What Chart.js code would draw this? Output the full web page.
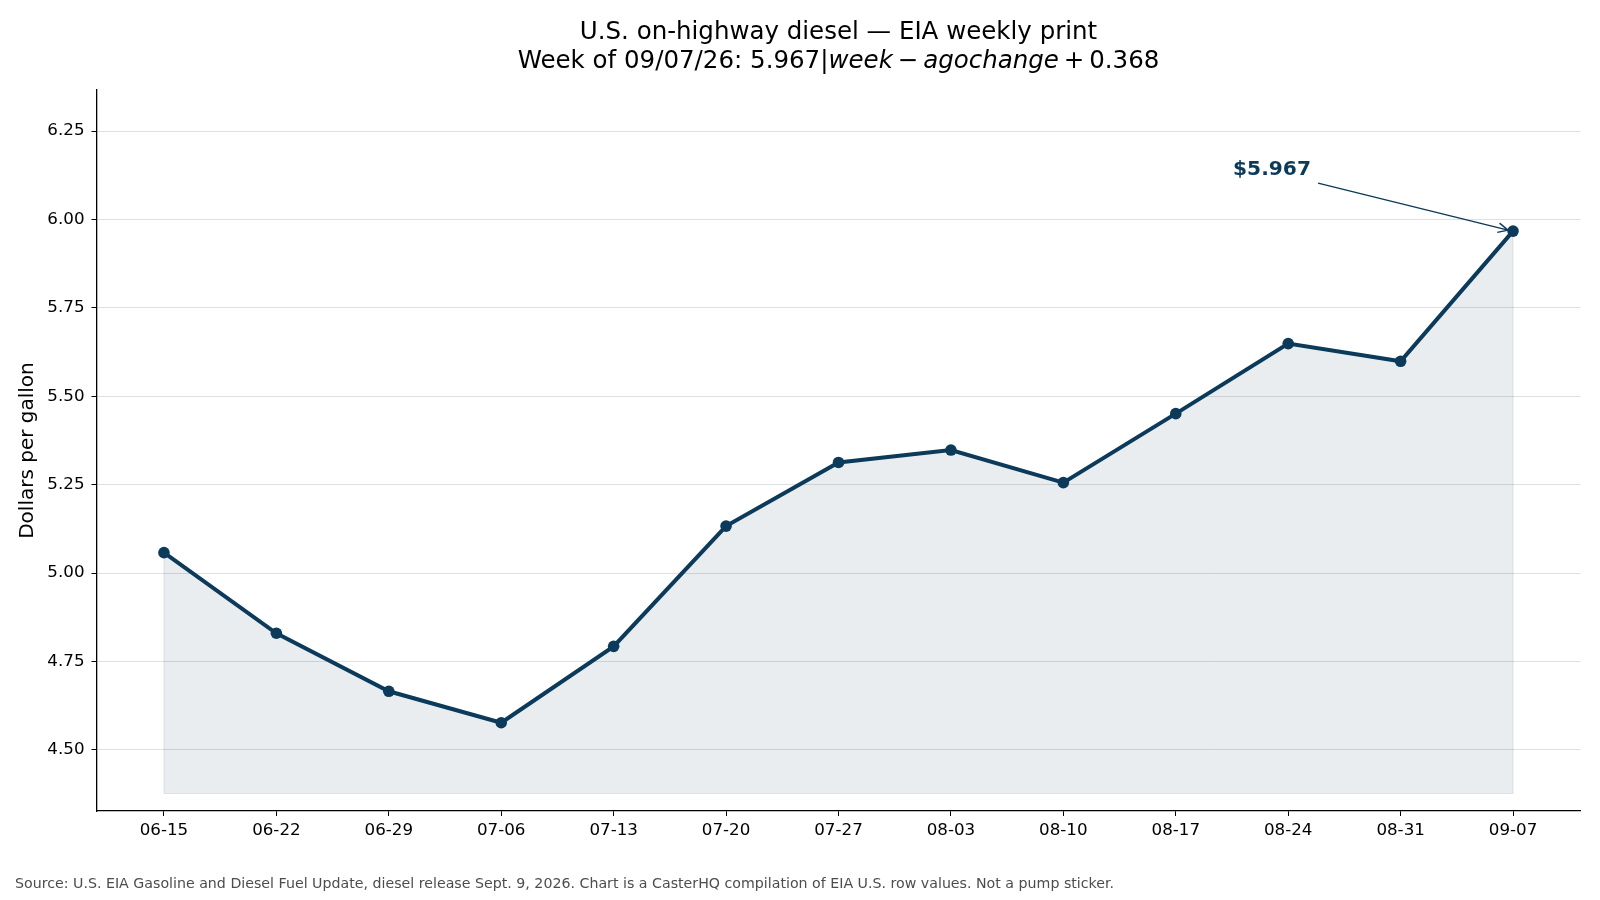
<!DOCTYPE html>
<html>
<head>
<meta charset="utf-8">
<title>U.S. on-highway diesel</title>
<script src="https://cdn.jsdelivr.net/npm/chart.js@4.4.1/dist/chart.umd.min.js"></script>
<style>
  html, body { margin: 0; padding: 0; background: #fff; }
  #wrap { width: 1600px; height: 900px; }
</style>
</head>
<body>
<div id="wrap"><canvas id="dieselChart" width="1600" height="900"></canvas></div>
<script>
// weekly EIA diesel prints ($/gal)
const weeks = ['06-15', '06-22', '06-29', '07-06', '07-13', '07-20', '07-27',
               '08-03', '08-10', '08-17', '08-24', '08-31', '09-07'];
const prices = [5.058, 4.830, 4.666, 4.577, 4.793, 5.133, 5.313,
                5.348, 5.256, 5.451, 5.649, 5.599, 5.967];
const yTicks = [4.50, 4.75, 5.00, 5.25, 5.50, 5.75, 6.00, 6.25];

const corLinha = '#0b3a5a';
const fonte = "'DejaVu Sans', sans-serif";
Chart.defaults.font.family = fonte;
Chart.defaults.color = '#000';

const minPreco = Math.min(...prices);
const baseArea = minPreco - 0.2;

// faint outline around the shaded area (like fill_between edges)
const contorno = {
  id: 'contorno',
  beforeDatasetsDraw(chart) {
    const pts = chart.getDatasetMeta(0).data;
    const yb = chart.scales.y.getPixelForValue(baseArea);
    const c = chart.ctx;
    c.save();
    c.strokeStyle = 'rgba(11, 58, 90, 0.10)';
    c.lineWidth = 1.2;
    c.beginPath();
    c.moveTo(pts[0].x, pts[0].y);
    pts.forEach(p => c.lineTo(p.x, p.y));
    c.lineTo(pts[pts.length - 1].x, yb);
    c.lineTo(pts[0].x, yb);
    c.closePath();
    c.stroke();
    c.restore();
  }
};

// title (with the mathtext-looking italic bits) + source + annotation
const extras = {
  id: 'extras',
  afterDraw(chart) {
    const c = chart.ctx;
    const area = chart.chartArea;
    const meio = (area.left + area.right) / 2;
    c.save();
    c.fillStyle = '#000';
    c.textBaseline = 'middle';
    c.textAlign = 'center';
    c.font = `24.5px ${fonte}`;
    c.fillText('U.S. on-highway diesel \u2014 EIA weekly print', meio, 33);

    // second line: text, style, extra gap after (math-style operator spacing)
    const tam2 = 24.5;
    const gap = tam2 * 0.2;
    const partes = [
      ['Week of 09/07/26: 5.967|', 'normal', 0],
      ['week', 'italic', gap],
      ['\u2212', 'normal', gap],
      ['agochange', 'italic', gap],
      ['+', 'normal', gap],
      ['0.368', 'normal', 0]
    ];
    let total = 0;
    partes.forEach(p => {
      c.font = `${p[1]} ${tam2}px ${fonte}`;
      total += c.measureText(p[0]).width + p[2];
    });
    let x = meio - total / 2;
    c.textAlign = 'left';
    partes.forEach(p => {
      c.font = `${p[1]} ${tam2}px ${fonte}`;
      c.fillText(p[0], x, 62);
      x += c.measureText(p[0]).width + p[2];
    });

    // source line
    c.font = `14.2px ${fonte}`;
    c.fillStyle = '#4d4d4d';
    c.fillText('Source: U.S. EIA Gasoline and Diesel Fuel Update, diesel release Sept. 9, 2026. Chart is a CasterHQ compilation of EIA U.S. row values. Not a pump sticker.', 15, 884);

    // annotation on the latest print
    const ult = prices.length - 1;
    const px = chart.scales.x.getPixelForValue(ult);
    const py = chart.scales.y.getPixelForValue(prices[ult]);
    c.fillStyle = corLinha;
    c.font = `bold 20.2px ${fonte}`;
    c.textAlign = 'left';
    c.fillText('$' + prices[ult].toFixed(3), px - 280, py - 61);

    const x0 = px - 195, y0 = py - 48;
    const x1 = px - 5, y1 = py - 1;
    c.strokeStyle = corLinha;
    c.lineWidth = 1.4;
    c.beginPath();
    c.moveTo(x0, y0);
    c.lineTo(x1, y1);
    const ang = Math.atan2(y1 - y0, x1 - x0);
    const ponta = 11;
    c.moveTo(x1 - ponta * Math.cos(ang - 0.45), y1 - ponta * Math.sin(ang - 0.45));
    c.lineTo(x1, y1);
    c.lineTo(x1 - ponta * Math.cos(ang + 0.45), y1 - ponta * Math.sin(ang + 0.45));
    c.stroke();
    c.restore();
  }
};

const grafico = new Chart(document.getElementById('dieselChart'), {
  type: 'line',
  data: {
    datasets: [{
      label: 'Diesel',
      data: weeks.map((w, i) => ({ x: i, y: prices[i] })),
      borderColor: corLinha,
      borderWidth: 4,
      pointRadius: 5.8,
      pointBackgroundColor: corLinha,
      pointBorderWidth: 0,
      tension: 0,
      fill: { value: baseArea },
      backgroundColor: 'rgba(11, 58, 90, 0.09)'
    }]
  },
  options: {
    responsive: false,
    animation: false,
    layout: { padding: { top: 90, right: 19.5, left: 0, bottom: 0 } },
    plugins: {
      legend: { display: false },
      tooltip: { enabled: false },
      title: { display: false }
    },
    scales: {
      x: {
        type: 'linear',
        min: -0.6,
        max: weeks.length - 1 + 0.6,
        afterBuildTicks: (s) => { s.ticks = weeks.map((w, i) => ({ value: i })); },
        afterFit: (s) => { s.height = 89; },
        ticks: {
          callback: (v) => weeks[v],
          font: { size: 16.7 },
          color: '#000',
          padding: 5,
          maxRotation: 0,
          autoSkip: false
        },
        grid: { drawOnChartArea: false, drawTicks: true, tickLength: 5, tickColor: '#000' },
        border: { display: true, color: '#000', width: 1.3 }
      },
      y: {
        min: 4.3275,
        max: 6.366,
        afterBuildTicks: (s) => { s.ticks = yTicks.map(v => ({ value: v })); },
        afterFit: (s) => { s.width = 96.5; },
        ticks: {
          callback: (v) => v.toFixed(2),
          font: { size: 16.7 },
          color: '#000',
          padding: 7
        },
        grid: { color: '#e0e0e0', lineWidth: 1, tickLength: 5, tickColor: '#000' },
        border: { display: true, color: '#000', width: 1.3 },
        title: {
          display: true,
          text: 'Dollars per gallon',
          font: { size: 20 },
          color: '#000',
          padding: { top: 16, bottom: 0 }
        }
      }
    }
  },
  plugins: [contorno, extras]
});
</script>
</body>
</html>
